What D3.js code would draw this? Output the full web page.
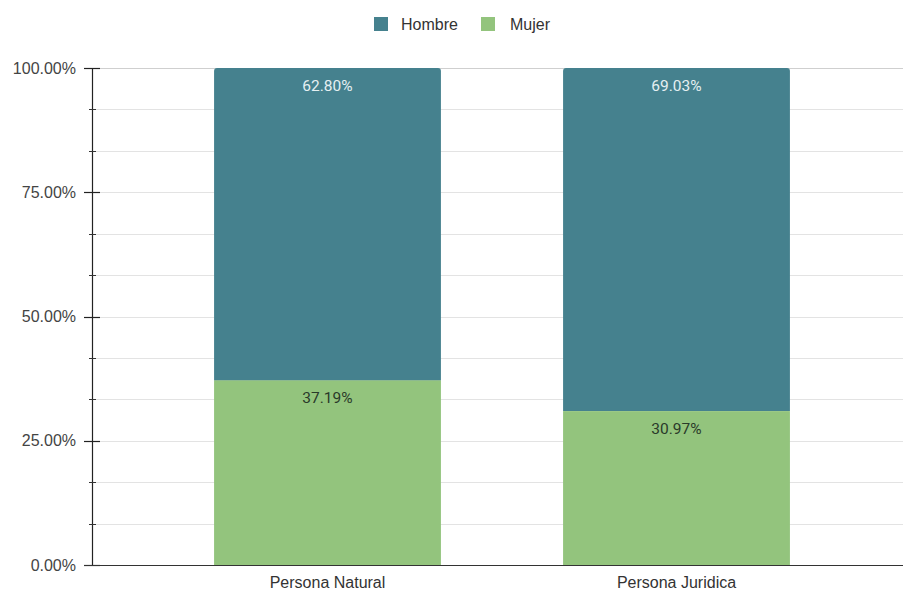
<!DOCTYPE html>
<html><head><meta charset="utf-8">
<script src="https://cdn.jsdelivr.net/npm/d3@7"></script>
<style>body{margin:0;background:#fff}svg{display:block}</style>
</head><body>
<svg id="c" width="903" height="591"></svg>
<script>
const categories = ["Persona Natural", "Persona Juridica"];
const seriesNames = ["Hombre", "Mujer"];
const hombre = [62.80, 69.03];
const mujer = [37.19, 30.97];
const majorTicks = [0, 25, 50, 75, 100];
const colors = {Hombre: "#45818e", Mujer: "#93c47d"};

const svg = d3.select("#c");
const y = d3.scaleLinear().domain([0, 100]).range([565, 68]);
const x = d3.scaleBand().domain(categories).range([153, 851]).paddingInner(0.35).paddingOuter(0.175);
const axisX = 92;
const font = "Liberation Sans, Arial, sans-serif";

// gridlines
const minor = d3.range(0, 100.001, 100/12);
svg.append("g").selectAll("line").data(minor).join("line")
  .attr("x1", axisX).attr("x2", 903)
  .attr("y1", d => Math.round(y(d)) + 0.5).attr("y2", d => Math.round(y(d)) + 0.5)
  .attr("stroke", d => d === 100 ? "#cfcfcf" : "#e3e3e3").attr("stroke-width", 1);

// bars
const g = svg.append("g");
categories.forEach((c, i) => {
  const x0 = x(c), w = x.bandwidth();
  const m = mujer[i], h = hombre[i];
  g.append("rect").attr("x", x0).attr("width", w)
    .attr("y", y(m)).attr("height", y(0) - y(m)).attr("fill", colors.Mujer);
  const top = y(m + h), bot = y(m), r = 3;
  g.append("path").attr("fill", colors.Hombre)
    .attr("d", `M${x0},${bot}V${top + r}Q${x0},${top} ${x0 + r},${top}H${x0 + w - r}Q${x0 + w},${top} ${x0 + w},${top + r}V${bot}Z`);
  g.append("text").attr("x", x0 + w/2).attr("y", top + 23).attr("text-anchor", "middle")
    .attr("font-family", "Roboto, sans-serif").attr("font-size", 15.5).attr("fill", "#e6f0f2")
    .text(h.toFixed(2) + "%");
  g.append("text").attr("x", x0 + w/2).attr("y", bot + 23).attr("text-anchor", "middle")
    .attr("font-family", "Roboto, sans-serif").attr("font-size", 15.5).attr("fill", "#2a3a2a")
    .text(m.toFixed(2) + "%");
});

// y axis
const ya = svg.append("g");
ya.append("line").attr("x1", axisX + 0.5).attr("x2", axisX + 0.5).attr("y1", y(100)).attr("y2", y(0))
  .attr("stroke", "#222").attr("stroke-width", 1.2);
ya.selectAll(".mn").data(minor.filter(d => !majorTicks.some(t => Math.abs(t - d) < 0.01))).join("line")
  .attr("x1", axisX - 3).attr("x2", axisX + 4)
  .attr("y1", d => Math.round(y(d)) + 0.5).attr("y2", d => Math.round(y(d)) + 0.5)
  .attr("stroke", "#333").attr("stroke-width", 1);
ya.selectAll(".mj").data(majorTicks).join("line")
  .attr("x1", axisX - 8).attr("x2", axisX + 8)
  .attr("y1", d => Math.round(y(d)) + 0.5).attr("y2", d => Math.round(y(d)) + 0.5)
  .attr("stroke", "#222").attr("stroke-width", 1.2);
ya.selectAll("text").data(majorTicks).join("text")
  .attr("x", 76).attr("y", d => y(d) + 5.5).attr("text-anchor", "end")
  .attr("font-family", font).attr("font-size", 16).attr("fill", "#444")
  .text(d => d.toFixed(2) + "%");

// baseline
svg.append("line").attr("x1", axisX - 8).attr("x2", 903).attr("y1", 565.5).attr("y2", 565.5)
  .attr("stroke", "#333").attr("stroke-width", 1);

// x labels
svg.append("g").selectAll("text").data(categories).join("text")
  .attr("x", d => x(d) + x.bandwidth()/2).attr("y", 588).attr("text-anchor", "middle")
  .attr("font-family", font).attr("font-size", 16).attr("fill", "#333")
  .text(d => d);

// legend
const leg = svg.append("g");
const legPos = [{sx: 374, tx: 401}, {sx: 481, tx: 510}];
seriesNames.forEach((s, i) => {
  leg.append("rect").attr("x", legPos[i].sx).attr("y", 17).attr("width", 14).attr("height", 14).attr("fill", colors[s]);
  leg.append("text").attr("x", legPos[i].tx).attr("y", 30).attr("font-family", font)
    .attr("font-size", 16).attr("fill", "#333").text(s);
});
</script>
</body></html>
